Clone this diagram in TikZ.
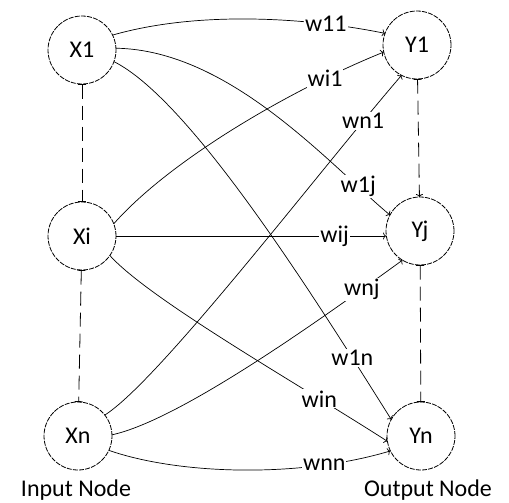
\documentclass[tikz,border=0pt]{standalone}
\usepackage{fontspec}
\setmainfont{Carlito}
\usetikzlibrary{arrows.meta}
\begin{document}
\begin{tikzpicture}[x=1pt,y=-1pt,
  neuron/.style={circle,draw,line width=0.8pt,dash pattern=on 5pt off 1.2pt,minimum size=68pt,inner sep=0pt,outer sep=0pt,font=\fontsize{24}{28}\selectfont},
  edge/.style={line width=0.7pt,-{To[length=3pt,width=7pt]}},
  lab/.style={fill=white,inner sep=1pt,font=\fontsize{24}{28}\selectfont},
  vdash/.style={line width=0.8pt,dash pattern=on 14pt off 7pt},
  caption/.style={font=\fontsize{24}{28}\selectfont,anchor=base}]
\useasboundingbox (0,0) rectangle (509,503);
\node[neuron] (X1) at (82,50) {X1};
\node[neuron] (Xi) at (82,236) {Xi};
\node[neuron] (Xn) at (78,436) {Xn};
\node[neuron] (Y1) at (417,45) {Y1};
\node[neuron] (Yj) at (420,231) {Yj};
\node[neuron] (Yn) at (421,436) {Yn};
\node[caption] (in) at (76,496) {Input Node};
\node[caption] (out) at (428,496) {Output Node};
% vertical dashed links
\draw[vdash,{Bar[width=8pt,line width=0.8pt]}-{Bar[width=8pt,line width=0.8pt]}] (X1) -- (Xi);
\draw[vdash,{Bar[width=8pt,line width=0.8pt]}-{Bar[width=8pt,line width=0.8pt]}] (Xi) -- (Xn);
\draw[vdash,{Bar[width=8pt,line width=0.8pt]}-{To[length=3pt,width=7pt]}] (Y1) -- (Yj);
\draw[vdash,{Bar[width=8pt,line width=0.8pt]}-{Bar[width=8pt,line width=0.8pt]}] (Yj) -- (Yn);
% weighted connections
\draw[edge] (X1.26) .. controls (200,10) and (310,18) .. node[lab,pos=.76]{w11} (Y1.160);
\draw[edge] (X1.3) .. controls (230,50) and (330,165) .. node[lab,pos=.84]{w1j} (Yj.152);
\draw[edge] (X1.-20) .. controls (190,100) and (310,290) .. node[lab,pos=.85]{w1n} (Yn.151);
\draw[edge] (Xi.21) .. controls (170,160) and (290,90) .. node[lab,pos=.8]{wi1} (Y1.192);
\draw[edge] (Xi.east) -- node[lab,pos=.81]{wij} (Yj.west |- Xi.east);
\draw[edge] (Xi.-35) .. controls (150,300) and (300,385) .. node[lab,pos=.77]{win} (Yn.189);
\draw[edge] (Xn.38) .. controls (160,380) and (320,170) .. node[lab,pos=.86]{wn1} (Y1.243);
\draw[edge] (Xn.2) .. controls (180,420) and (320,320) .. node[lab,pos=.85]{wnj} (Yj.239);
\draw[edge] (Xn.-25) .. controls (180,475) and (300,478) .. node[lab,pos=.77]{wnn} (Yn.206);
\end{tikzpicture}
\end{document}
